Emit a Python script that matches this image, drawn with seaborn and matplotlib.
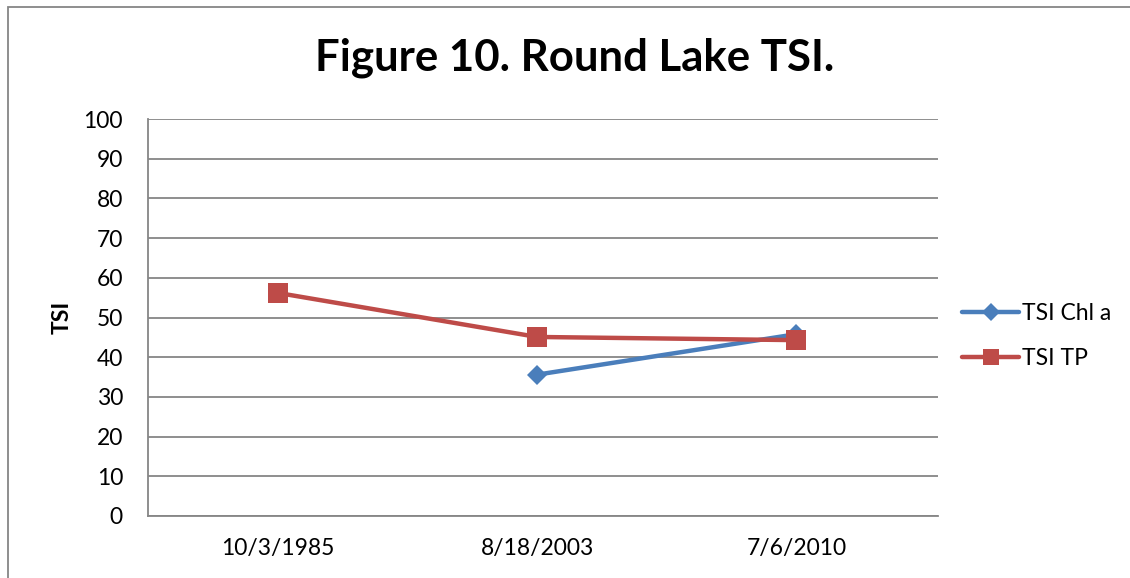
import matplotlib
matplotlib.use("Agg")
import matplotlib.pyplot as plt
import seaborn as sns
import pandas as pd
from matplotlib.patches import Rectangle

categories = ["10/3/1985", "8/18/2003", "7/6/2010"]
tsi_chl_a = [None, 35.6, 45.8]
tsi_tp = [56.2, 45.1, 44.3]
y_ticks = [0, 10, 20, 30, 40, 50, 60, 70, 80, 90, 100]

sns.set_theme(style="white")
plt.rcParams['font.family'] = ['Lato', 'DejaVu Sans']
plt.rcParams['text.color'] = 'black'
plt.rcParams['xtick.color'] = 'black'
plt.rcParams['ytick.color'] = 'black'
plt.rcParams['axes.labelcolor'] = 'black'

rows = []
for c, v in zip(categories, tsi_chl_a):
    if v is not None:
        rows.append({"date": c, "value": v, "series": "TSI Chl a"})
for c, v in zip(categories, tsi_tp):
    rows.append({"date": c, "value": v, "series": "TSI TP"})
df = pd.DataFrame(rows)
df["x"] = df["date"].map({c: i for i, c in enumerate(categories)})

fig = plt.figure(figsize=(11.3, 5.78), dpi=100)
ax = fig.add_axes([148/1130, 1-516/578, (938-148)/1130, (516-119)/578])

palette = {"TSI Chl a": "#4A7EBB", "TSI TP": "#BE4B48"}
markers = {"TSI Chl a": "D", "TSI TP": "s"}
sns.lineplot(data=df, x="x", y="value", hue="series", style="series",
             palette=palette, markers=markers, dashes=False, linewidth=3.2,
             markersize=14.5, markeredgewidth=0, ax=ax, sort=False)
for line in ax.get_lines():
    if line.get_marker() == "D":
        line.set_markersize(10.5)

ax.set_xlim(-0.5, 2.546)
ax.set_ylim(0, 100)
ax.set_yticks(y_ticks)
ax.set_yticklabels([str(t) for t in y_ticks], fontsize=16.5)
ax.set_xticks(range(len(categories)))
ax.set_xticklabels(categories, fontsize=16.5)
ax.tick_params(axis='both', length=0)
ax.tick_params(axis='y', pad=18)
ax.tick_params(axis='x', pad=16)
ax.yaxis.grid(True, color="#868686", linewidth=1.3)
ax.set_axisbelow(True)
for s in ["top", "right"]:
    ax.spines[s].set_visible(False)
for s in ["left", "bottom"]:
    ax.spines[s].set_color("#868686")
    ax.spines[s].set_linewidth(1.3)
ax.set_xlabel("")
ax.set_ylabel("TSI", fontsize=16.5, fontweight="bold", labelpad=8)

h, l = ax.get_legend_handles_labels()
if ax.get_legend() is not None:
    ax.get_legend().remove()
for hh in h:
    if hh.get_marker() == "D":
        hh.set_markersize(9.5)
    else:
        hh.set_markersize(12)
fig.legend(h, l, loc="center left", bbox_to_anchor=(962/1130, 1-336/578), frameon=False,
           fontsize=16.5, handlelength=2.5, labelspacing=1.05, handletextpad=0.1,
           borderpad=0, borderaxespad=0)

fig.text(575/1130, 1-58/578, "Figure 10. Round Lake TSI.", ha="center", va="center",
         fontsize=31.5, fontweight="bold", color="black")

fig.patches.append(Rectangle((8/1130, -0.1), 1.2, 1-7/578+0.1, transform=fig.transFigure,
                             fill=False, edgecolor="#868686", linewidth=1.3))

fig.savefig("out.png", dpi=100)
